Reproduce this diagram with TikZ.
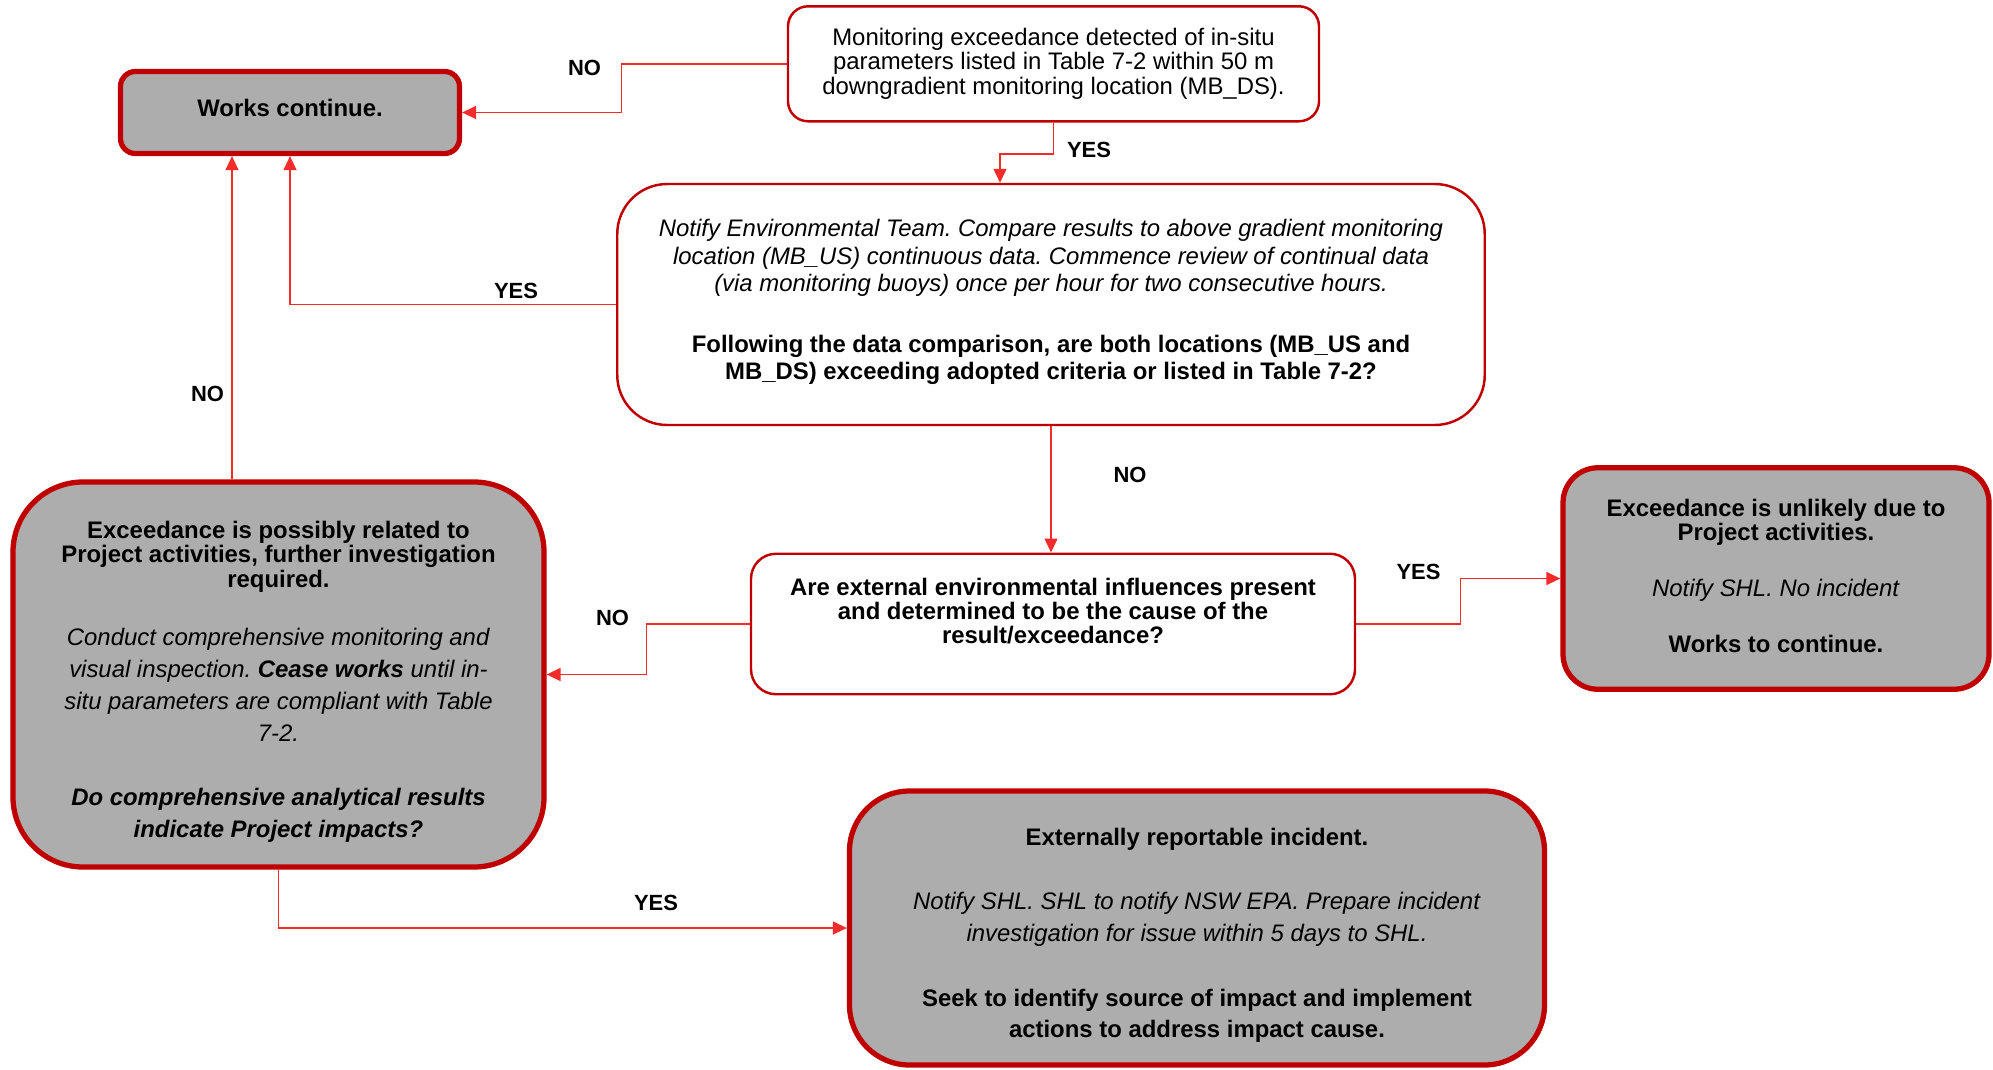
\documentclass[tikz,border=0pt]{standalone}
\usepackage{fontspec}
\setmainfont{Liberation Sans}
\usetikzlibrary{arrows.meta}
\definecolor{boxred}{HTML}{C00000}
\definecolor{linered}{HTML}{F22B2B}
\definecolor{boxgrey}{HTML}{ADADAD}
\frenchspacing

\begin{document}
\begin{tikzpicture}[
  font=\fontsize{13.6}{13.7}\selectfont,
  plain/.style={draw=boxred,line width=1.4pt,fill=white,align=center,inner sep=0pt},
  shaded/.style={draw=boxred,line width=3pt,fill=boxgrey,align=center,inner sep=0pt},
  arr/.style={draw=linered,line width=0.8pt,-{Triangle[length=0.28cm,width=0.26cm]}},
  lbl/.style={font=\fontsize{12.5}{13}\selectfont\bfseries}
]
  \useasboundingbox (0,0) rectangle (39.86,-21.38);
  % Kästen
  \node[shaded,minimum width=6.78cm,minimum height=1.64cm,rounded corners=0.3cm,text depth=5.8pt] (works) at (5.80,-2.25)
    {\textbf{Works continue.}};
  \node[plain,minimum width=10.62cm,minimum height=2.30cm,rounded corners=0.4cm] (detect) at (21.07,-1.276)
    {Monitoring exceedance detected of in-situ\\parameters listed in Table 7-2 within 50 m\\downgradient monitoring location (MB\_DS).};
  \node[plain,minimum width=17.35cm,minimum height=4.82cm,rounded corners=1cm,text depth=6pt] (notify) at (21.02,-6.09)
    {\textit{Notify Environmental Team. Compare results to above gradient monitoring}\\[1.9pt]
     \textit{location (MB\_US) continuous data. Commence review of continual data}\\[1.9pt]
     \textit{(via monitoring buoys) once per hour for two consecutive hours.}\\[21pt]
     \textbf{Following the data comparison, are both locations (MB\_US and}\\[1.5pt]
     \textbf{MB\_DS) exceeding adopted criteria or listed in Table 7-2?}};
  \node[shaded,minimum width=10.62cm,minimum height=7.70cm,rounded corners=1.4cm] (related) at (5.57,-13.49)
    {\rule{0pt}{18.5pt}\textbf{Exceedance is possibly related to}\\
     \textbf{Project activities, further investigation}\\
     \textbf{required.}\\[19.6pt]
     \textit{Conduct comprehensive monitoring and}\\[4.4pt]
     \textit{visual inspection. \textbf{Cease works} until in-}\\[4.4pt]
     \textit{situ parameters are compliant with Table}\\[4.4pt]
     \textit{7-2.}\\[23.2pt]
     \textbf{\textit{Do comprehensive analytical results}}\\[4.4pt]
     \textbf{\textit{indicate Project impacts?}}};
  \node[plain,minimum width=12.08cm,minimum height=2.81cm,rounded corners=0.5cm,text depth=15pt] (external) at (21.06,-12.48)
    {\textbf{Are external environmental influences present}\\
     \textbf{and determined to be the cause of the}\\
     \textbf{result/exceedance?}};
  \node[shaded,minimum width=8.52cm,minimum height=4.43cm,rounded corners=0.7cm,text depth=2.9pt] (unlikely) at (35.52,-11.57)
    {\textbf{Exceedance is unlikely due to}\\
     \textbf{Project activities.}\\[18.1pt]
     \textit{Notify SHL. No incident}\\[18.1pt]
     \textbf{Works to continue.}};
  \node[shaded,minimum width=13.90cm,minimum height=5.48cm,rounded corners=1.2cm] (incident) at (23.94,-18.56)
    {\rule{0pt}{18.5pt}\textbf{Externally reportable incident.}\\[22.5pt]
     \textit{Notify SHL. SHL to notify NSW EPA. Prepare incident}\\[4.4pt]
     \textit{investigation for issue within 5 days to SHL.}\\[23.2pt]
     \textbf{Seek to identify source of impact and implement}\\[4.4pt]
     \textbf{actions to address impact cause.}};
  % Pfeile
  \draw[arr] (detect.west) -- ++(-3.30,0) |- (works.east);
  \draw[arr] (detect.south) -- ++(0,-0.63) -| ([xshift=-1.02cm]notify.north);
  \draw[arr] (notify.west) -| (works.south);
  \draw[arr] ([xshift=-0.93cm]related.north) -- ([xshift=-0.93cm]related.north |- works.south);
  \draw[arr] (notify.south) -- (notify.south |- external.north);
  \draw[arr] (external.west) -- ++(-2.07,0) |- (related.east);
  \draw[arr] (external.east) -- ++(2.08,0) |- (unlikely.west);
  \draw[arr] (related.south) |- (incident.west);
  % Beschriftungen
  \node[lbl] (noDetect) at (11.69,-1.35) {NO};
  \node[lbl] (yesDetect) at (21.78,-3.00) {YES};
  \node[lbl] (yesNotify) at (10.32,-5.82) {YES};
  \node[lbl] (noRelated) at (4.15,-7.88) {NO};
  \node[lbl] (noNotify) at (22.60,-9.50) {NO};
  \node[lbl] (noExternal) at (12.25,-12.35) {NO};
  \node[lbl] (yesExternal) at (28.37,-11.44) {YES};
  \node[lbl] (yesRelated) at (13.12,-18.05) {YES};
\end{tikzpicture}
\end{document}
